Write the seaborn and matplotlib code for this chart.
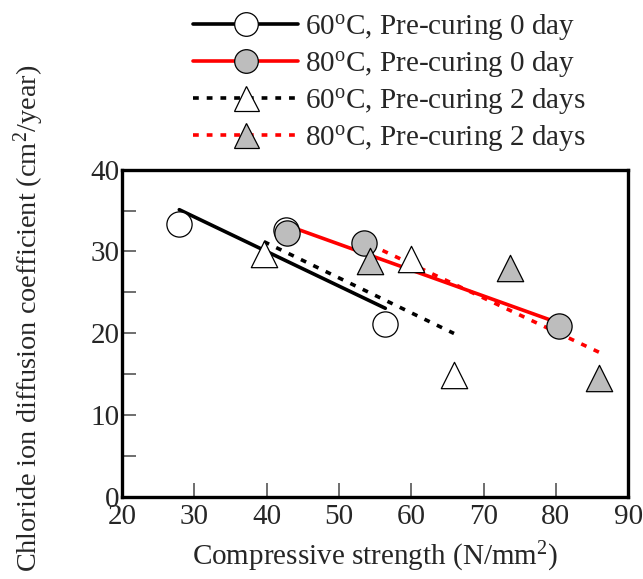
import numpy as np
import pandas as pd
import matplotlib
matplotlib.use("Agg")
import matplotlib.pyplot as plt
from matplotlib.lines import Line2D
import seaborn as sns

# data
x_60_0 = [27.9, 42.7, 56.4]
y_60_0 = [33.3, 32.6, 21.1]
x_80_0 = [42.8, 53.5, 80.4]
y_80_0 = [32.3, 31.0, 20.9]
x_60_2 = [39.6, 59.9, 65.9]
y_60_2 = [29.7, 29.1, 14.9]
x_80_2 = [54.3, 73.6, 86.0]
y_80_2 = [28.8, 28.0, 14.5]

labels = [r"60$^{\mathrm{o}}$C, Pre-curing 0 day",
          r"80$^{\mathrm{o}}$C, Pre-curing 0 day",
          r"60$^{\mathrm{o}}$C, Pre-curing 2 days",
          r"80$^{\mathrm{o}}$C, Pre-curing 2 days"]

sns.set_style("ticks")
plt.rcParams['font.family'] = ['Liberation Serif', 'DejaVu Serif']
plt.rcParams['mathtext.fontset'] = 'custom'
plt.rcParams['mathtext.rm'] = 'Liberation Serif'
plt.rcParams['mathtext.it'] = 'Liberation Serif:italic'

FS = 21

series = [
    (x_60_0, y_60_0, 'black', '-', 'o', 'white'),
    (x_80_0, y_80_0, 'red', '-', 'o', '#bdbdbd'),
    (x_60_2, y_60_2, 'black', (0, (1.6, 2.2)), '^', 'white'),
    (x_80_2, y_80_2, 'red', (0, (1.6, 2.2)), '^', '#bdbdbd'),
]

fig = plt.figure(figsize=(6.43, 5.79), dpi=100)
ax = fig.add_axes([0.19, 0.142, 0.787, 0.565])

# fit lines first
for xs, ys, c, ls, m, fc in series:
    df = pd.DataFrame({'x': xs, 'y': ys})
    sns.regplot(data=df, x='x', y='y', ax=ax, scatter=False, ci=None,
                truncate=True, color=c,
                line_kws={'linestyle': ls, 'linewidth': 2.6, 'zorder': 2})

# markers on top
for xs, ys, c, ls, m, fc in series:
    df = pd.DataFrame({'x': xs, 'y': ys})
    sns.scatterplot(data=df, x='x', y='y', ax=ax, marker=m,
                    s=330 if m == 'o' else 360, color=fc,
                    edgecolor='black', linewidth=0.9, zorder=3)

ax.set_xlim(20, 90)
ax.set_ylim(0, 40)
ax.set_xticks(np.arange(20, 91, 10))
ax.set_yticks(np.arange(0, 41, 10))
ax.set_yticks(np.arange(5, 40, 10), minor=True)
ax.tick_params(axis='both', which='both', direction='in', labelsize=FS,
               width=1.2, color='#555555')
ax.tick_params(axis='x', which='major', length=10, pad=5)
ax.tick_params(axis='y', which='major', length=10, pad=2)
ax.tick_params(axis='y', which='minor', length=10)
for sp in ax.spines.values():
    sp.set_visible(True)
    sp.set_linewidth(2.4)
    sp.set_color('black')

ax.set_xlabel(r"Compressive strength (N/mm$^{2}$)", fontsize=FS, labelpad=7)
ax.set_ylabel(r"Chloride ion diffusion coefficient (cm$^{2}$/year)",
              fontsize=20.3)
ax.yaxis.set_label_coords(-0.15, 0.545)

handles = []
for xs, ys, c, ls, m, fc in series:
    handles.append(Line2D([], [], color=c, linestyle=ls, linewidth=2.6,
                          marker=m, markersize=17 if m == 'o' else 18,
                          markerfacecolor=fc, markeredgecolor='black',
                          markeredgewidth=0.9))
fig.legend(handles, labels, loc='upper left',
           bbox_to_anchor=(0.273, 1.01), frameon=False, fontsize=FS,
           handlelength=3.6, handletextpad=0.25, labelspacing=0.24,
           numpoints=1, borderaxespad=0.2)

fig.savefig("out.png", dpi=100)
